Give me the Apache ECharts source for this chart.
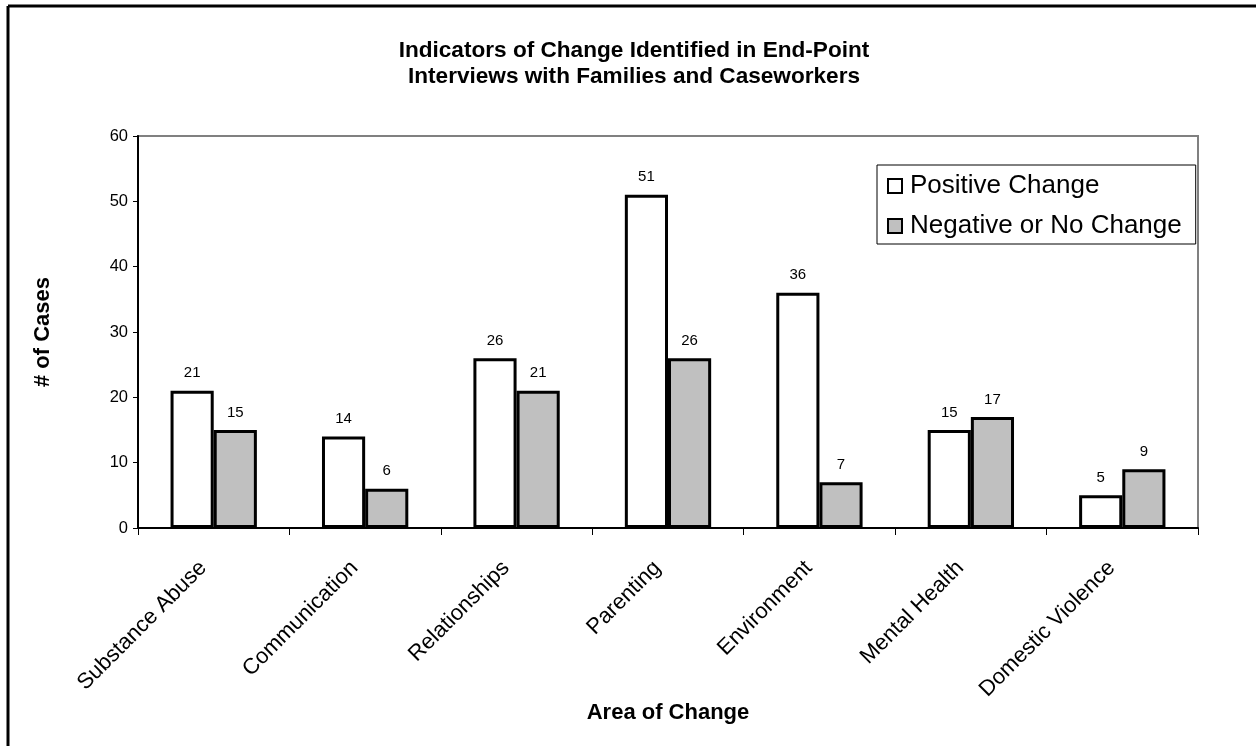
<!DOCTYPE html>
<html>
<head>
<meta charset="utf-8">
<script src="https://cdn.jsdelivr.net/npm/echarts@6/dist/echarts.min.js"></script>
<style>
  html, body { margin: 0; padding: 0; background: #fff; }
  #chart { width: 1256px; height: 746px; }
</style>
</head>
<body>
<div id="chart"></div>
<script>
var categories = ['Substance Abuse', 'Communication', 'Relationships', 'Parenting', 'Environment', 'Mental Health', 'Domestic Violence'];
var positiveChange = [21, 14, 26, 51, 36, 15, 5];
var negativeChange = [15, 6, 21, 26, 7, 17, 9];
var seriesNames = ['Positive Change', 'Negative or No Change'];

var chart = echarts.init(document.getElementById('chart'));
var font = 'Liberation Sans, Arial, sans-serif';

function barLabel() {
    return {
        show: true,
        position: 'top',
        distance: 10,
        color: '#000',
        fontSize: 15,
        fontFamily: font
    };
}

chart.setOption({
    animation: false,
    backgroundColor: '#fff',
    title: {
        text: 'Indicators of Change Identified in End-Point\nInterviews with Families and Caseworkers',
        left: 629,
        top: 33,
        textAlign: 'center',
        textStyle: {
            fontFamily: font,
            fontSize: 22.6,
            fontWeight: 'bold',
            color: '#000',
            lineHeight: 26
        }
    },
    // outer frame (only top and left edges are visible in the picture)
    graphic: [
        { type: 'line', shape: { x1: 8, y1: 6, x2: 1256, y2: 6 }, style: { stroke: '#000', lineWidth: 3 } },
        { type: 'line', shape: { x1: 8, y1: 6, x2: 8, y2: 746 }, style: { stroke: '#000', lineWidth: 3 } }
    ],
    legend: {
        data: seriesNames,
        orient: 'vertical',
        left: 877,
        top: 165,
        padding: [8, 14, 5, 10],
        itemGap: 14,
        itemWidth: 20,
        itemHeight: 14,
        icon: 'path://M0,0L10,0L10,10L0,10Z',
        symbolKeepAspect: true,
        backgroundColor: '#fff',
        borderColor: '#000',
        borderWidth: 1,
        borderRadius: 0,
        itemStyle: { borderColor: '#000', borderWidth: 2 },
        textStyle: { fontFamily: font, fontSize: 26, color: '#000' }
    },
    grid: {
        left: 138,
        top: 136,
        width: 1060,
        height: 392,
        show: true,
        borderColor: '#808080',
        borderWidth: 2,
        containLabel: false
    },
    xAxis: {
        type: 'category',
        data: categories,
        name: 'Area of Change',
        nameLocation: 'middle',
        nameGap: 174,
        nameMoveOverlap: false,
        nameTextStyle: { fontFamily: font, fontSize: 22, fontWeight: 'bold', color: '#000' },
        axisLine: { lineStyle: { color: '#000', width: 2 } },
        axisTick: { show: true, length: 7, lineStyle: { color: '#000', width: 1 } },
        axisLabel: {
            interval: 0,
            rotate: 45,
            margin: 26,
            padding: [0, 15, 0, 0],
            color: '#000',
            fontSize: 22,
            fontFamily: font
        },
        splitLine: { show: false }
    },
    yAxis: {
        type: 'value',
        min: 0,
        max: 60,
        interval: 10,
        name: '# of Cases',
        nameLocation: 'middle',
        nameRotate: 90,
        nameGap: 84,
        nameMoveOverlap: false,
        nameTextStyle: { fontFamily: font, fontSize: 22, fontWeight: 'bold', color: '#000' },
        axisLine: { show: true, lineStyle: { color: '#000', width: 2 } },
        axisTick: { show: true, length: 5, lineStyle: { color: '#000', width: 1 } },
        axisLabel: { color: '#000', fontSize: 16.5, fontFamily: font, margin: 10 },
        splitLine: { show: false }
    },
    series: [
        {
            name: seriesNames[0],
            type: 'bar',
            data: positiveChange,
            barGap: '0%',
            barCategoryGap: '43%',
            itemStyle: { color: '#fff', borderColor: '#000', borderWidth: 3 },
            label: barLabel()
        },
        {
            name: seriesNames[1],
            type: 'bar',
            data: negativeChange,
            itemStyle: { color: '#c0c0c0', borderColor: '#000', borderWidth: 3 },
            label: barLabel()
        }
    ]
});
</script>
</body>
</html>
